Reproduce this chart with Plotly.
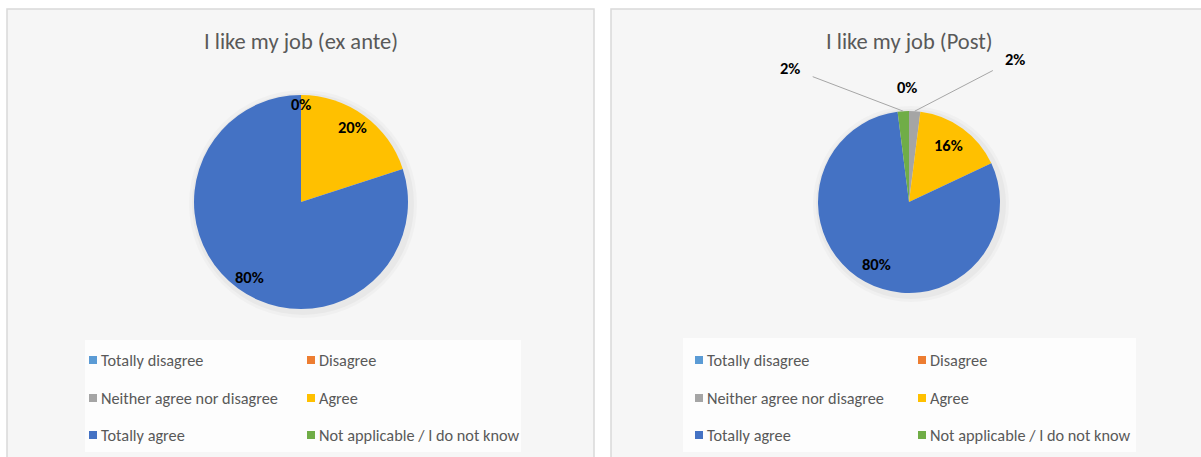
import math
import plotly.graph_objects as go

W, H = 1201, 457

categories = ["Totally disagree", "Disagree", "Neither agree nor disagree",
              "Agree", "Totally agree", "Not applicable / I do not know"]
colors = ["#5B9BD5", "#ED7D31", "#A5A5A5", "#FFC000", "#4472C4", "#70AD47"]

ex_ante_values = [0, 0, 0, 20, 80, 0]
post_values = [0, 0, 2, 16, 80, 2]

titles = ["I like my job (ex ante)", "I like my job (Post)"]

FONT = "Calibri, Carlito, Liberation Sans, Arial, sans-serif"
GRAY = "#595959"


def px_x(v):
    return v / W


def px_y(v):
    return 1 - v / H


fig = go.Figure()
shapes = []
annotations = []

# panels
panels = [(7, 9, 594, 470), (611, 9, 1215, 470)]
for (x0, y0, x1, y1) in panels:
    shapes.append(dict(type="rect", xref="paper", yref="paper",
                       x0=px_x(x0), x1=px_x(x1), y0=px_y(y1), y1=px_y(y0),
                       fillcolor="#f6f6f6", line=dict(color="#d9d9d9", width=1.5),
                       layer="below"))

# legend boxes
legend_boxes = [(85, 340, 521, 452), (683, 338, 1136, 452)]
for (x0, y0, x1, y1) in legend_boxes:
    shapes.append(dict(type="rect", xref="paper", yref="paper",
                       x0=px_x(x0), x1=px_x(x1), y0=px_y(y1), y1=px_y(y0),
                       fillcolor="#fdfdfd", line=dict(width=0), layer="below"))

# pies: center and radius in px, label radius fraction
pie_geom = [(301, 202, 107, 0.82), (909, 202, 91, 0.74)]
all_values = [ex_ante_values, post_values]
label_font = dict(family=FONT, size=16.5, color="#000000", weight="bold")

for vals, (cx, cy, r, lf) in zip(all_values, pie_geom):
    for grow, alpha in [(7, 0.025), (4, 0.03)]:
        shapes.append(dict(type="circle", xref="paper", yref="paper",
                           x0=px_x(cx - r - grow + 2), x1=px_x(cx + r + grow + 2),
                           y0=px_y(cy + r + grow + 2), y1=px_y(cy - r - grow + 2),
                           fillcolor=f"rgba(0,0,0,{alpha})", line=dict(width=0),
                           layer="below"))
    fig.add_trace(go.Pie(
        labels=categories, values=vals, sort=False, direction="clockwise",
        rotation=0, marker=dict(colors=colors, line=dict(width=0)),
        textinfo="none", showlegend=False, hoverinfo="label+percent",
        domain=dict(x=[px_x(cx - r), px_x(cx + r)], y=[px_y(cy + r), px_y(cy - r)]),
    ))
    # data labels for the large slices, placed along each slice bisector
    total = sum(vals)
    cum = 0
    for v in vals:
        mid = math.radians((cum + v / 2) / total * 360)
        cum += v
        if v >= 5:
            annotations.append(dict(
                text=f"{round(100 * v / total)}%", xref="paper", yref="paper",
                x=px_x(cx + lf * r * math.sin(mid)),
                y=px_y(cy - 1.05 * lf * r * math.cos(mid)),
                xanchor="center", yanchor="middle", showarrow=False, font=label_font))

# titles
for t, xc in zip(titles, [301, 909]):
    annotations.append(dict(text=t, xref="paper", yref="paper", x=px_x(xc), y=px_y(42),
                            xanchor="center", yanchor="middle", showarrow=False,
                            font=dict(family=FONT, size=22.5, color=GRAY)))

# zero labels
annotations.append(dict(text=f"{ex_ante_values[0]}%", xref="paper", yref="paper",
                        x=px_x(301), y=px_y(104), xanchor="center", yanchor="middle",
                        showarrow=False, font=label_font))
annotations.append(dict(text=f"{post_values[0]}%", xref="paper", yref="paper",
                        x=px_x(907), y=px_y(87), xanchor="center", yanchor="middle",
                        showarrow=False, font=label_font))

# outside leader-line labels on right pie for small slices
cx, cy, r, _ = pie_geom[1]
total = sum(post_values)
cum = 0
mids = []
for v in post_values:
    mids.append((cum + v / 2) / total * 360)
    cum += v
small = {2: (1015, 59), 5: (790, 68)}
for idx, (tx, ty) in small.items():
    ang = math.radians(mids[idx])
    tipx = cx + r * math.sin(ang)
    tipy = cy - r * math.cos(ang)
    annotations.append(dict(text=f"{post_values[idx]}%", xref="paper", yref="paper",
                            x=px_x(tipx), y=px_y(tipy), ax=tx - tipx, ay=ty - tipy,
                            showarrow=True, arrowhead=0, arrowwidth=1,
                            arrowcolor="#a6a6a6", standoff=0, startstandoff=12,
                            font=label_font))

# legends (2 columns x 3 rows)
legend_cols = [[89, 307], [695, 918]]
legend_rows = [360, 398, 435]
for cols in legend_cols:
    for k, (lab, col) in enumerate(zip(categories, colors)):
        row, c = divmod(k, 2)
        x0 = cols[c]
        yc = legend_rows[row]
        shapes.append(dict(type="rect", xref="paper", yref="paper",
                           x0=px_x(x0), x1=px_x(x0 + 8), y0=px_y(yc + 4), y1=px_y(yc - 4),
                           fillcolor=col, line=dict(width=0)))
        annotations.append(dict(text=lab, xref="paper", yref="paper", x=px_x(x0 + 10),
                                y=px_y(yc), xanchor="left", yanchor="middle",
                                showarrow=False,
                                font=dict(family=FONT, size=16.3, color=GRAY)))

fig.update_layout(width=W, height=H, margin=dict(l=0, r=0, t=0, b=0),
                  paper_bgcolor="white", plot_bgcolor="white",
                  shapes=shapes, annotations=annotations, showlegend=False)

fig.write_html("out.html", config={"displayModeBar": False},
               post_script="document.body.style.margin='0';document.body.style.overflow='hidden';")
